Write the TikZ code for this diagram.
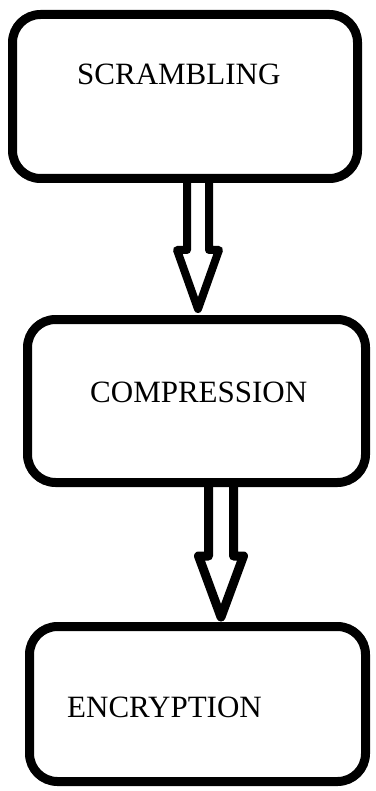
\documentclass[tikz,border=0pt]{standalone}
\usepackage{fontspec}
\setmainfont{Liberation Serif}
\usetikzlibrary{calc}
\begin{document}
\begin{tikzpicture}[x=1pt,y=-1pt,
  box/.style={draw=black,line width=9pt,rounded corners=28pt,inner sep=0pt,fill=none},
  lbl/.style={anchor=base west,inner sep=0pt,font=\fontsize{31}{31}\selectfont},
  hollow/.style={draw=black,line width=8pt,line join=round}]
\useasboundingbox (0,0) rectangle (375,791);
\node[box,minimum width=345pt,minimum height=164pt] (b1) at (185,96.5) {};
\node[box,minimum width=338pt,minimum height=163pt] (b2) at (196.5,401) {};
\node[box,minimum width=336pt,minimum height=155pt] (b3) at (197.5,704) {};
\node[lbl] (t1) at (77,85) {SCRAMBLING};
\node[lbl] (t2) at (90,402) {COMPRESSION};
\node[lbl] (t3) at (67,717) {ENCRYPTION};
\coordinate (a1) at ($(b1.south)+(13,-3)$);
\coordinate (a2) at ($(b2.south)+(24.5,-3)$);
\draw[hollow] ($(a1)+(-11,0)$) -- ($(a1)+(-11,70)$) -- ($(a1)+(-21,70)$)
  -- ($(a1)+(0,129)$) -- ($(a1)+(21,70)$) -- ($(a1)+(11,70)$) -- ($(a1)+(11,0)$);
\draw[hollow,line width=9pt] ($(a2)+(-12.5,0)$) -- ($(a2)+(-12.5,72)$) -- ($(a2)+(-22.5,72)$)
  -- ($(a2)+(0,133)$) -- ($(a2)+(22.5,72)$) -- ($(a2)+(12.5,72)$) -- ($(a2)+(12.5,0)$);
\end{tikzpicture}
\end{document}
